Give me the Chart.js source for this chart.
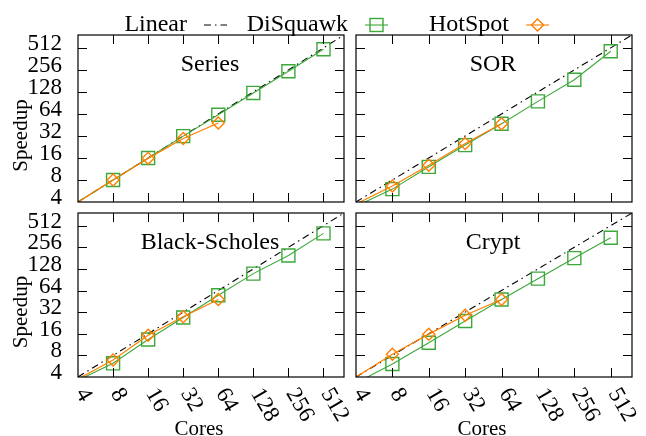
<!DOCTYPE html>
<html>
<head>
<meta charset="utf-8">
<title>Speedup</title>
<script src="https://cdn.jsdelivr.net/npm/chart.js@4.4.1/dist/chart.umd.min.js"></script>
<style>
  html, body { margin: 0; padding: 0; background: #fff; }
  #wrap { position: relative; width: 646px; height: 436px; }
  #wrap canvas { position: absolute; left: 0; top: 0; }
</style>
</head>
<body>
<div id="wrap">
  <canvas id="series" width="646" height="436"></canvas>
  <canvas id="sor" width="646" height="436"></canvas>
  <canvas id="blackscholes" width="646" height="436"></canvas>
  <canvas id="crypt" width="646" height="436"></canvas>
</div>
<script>
// cores on the x axis, speedups on the y axis (both log2)
const cores = [4, 8, 16, 32, 64, 128, 256, 512];
const hotSpotCores = [4, 8, 16, 32, 64];
const linearCores = [4, 8, 16, 32, 64, 128, 256, 512, 1024];
const linearSpeedup = [4, 8, 16, 32, 64, 128, 256, 512, 1024];

const seriesDiSquawk = [4, 8, 16, 31.8, 62.5, 124, 245, 490];
const seriesHotSpot = [4, 8, 15.8, 29.5, 48];
const sorDiSquawk = [3.5, 6, 12.1, 24, 47, 95, 188, 460];
const sorHotSpot = [3.75, 6.6, 12.7, 25.2, 47];
const blackScholesDiSquawk = [3.6, 6.2, 13.3, 27, 55, 110, 197, 400];
const blackScholesHotSpot = [3.75, 6.9, 15.3, 27.6, 48];
const cryptDiSquawk = [3.3, 6.06, 12, 24.1, 48, 93.6, 181, 347];
const cryptHotSpot = [4, 8.3, 15.8, 29, 48];

const tickValues = [4, 8, 16, 32, 64, 128, 256, 512];
const tickLabels = ["4", "8", "16", "32", "64", "128", "256", "512"];
const seriesNames = ["Linear", "DiSquawk", "HotSpot"];

const FONT = "'Liberation Serif', 'Times New Roman', serif";
const GREEN = "#3ca83a";
const ORANGE = "#ff7f00";
const AXIS_MAX = 768;
const TICK = 9;
const DASH_DOT = [7, 4, 1.5, 4];

function pairs(xs, ys) {
  return ys.map((y, i) => ({ x: xs[i], y: y }));
}

// frame, inside ticks, panel title and the outer axis labels
const framePlugin = {
  id: "frame",
  afterDatasetsDraw(chart, args, opts) {
    const { ctx, chartArea: a } = chart;
    const x = chart.scales.x;
    const y = chart.scales.y;
    ctx.save();
    ctx.strokeStyle = "#000";
    ctx.lineWidth = 1;
    ctx.beginPath();
    tickValues.forEach((v) => {
      const px = Math.round(x.getPixelForValue(v)) + 0.5;
      if (px > a.left + 1 && px < a.right - 1) {
        ctx.moveTo(px, a.bottom);
        ctx.lineTo(px, a.bottom - TICK);
        ctx.moveTo(px, a.top);
        ctx.lineTo(px, a.top + TICK);
      }
      const py = Math.round(y.getPixelForValue(v)) + 0.5;
      if (py > a.top + 1 && py < a.bottom - 1) {
        ctx.moveTo(a.left, py);
        ctx.lineTo(a.left + TICK, py);
        ctx.moveTo(a.right, py);
        ctx.lineTo(a.right - TICK, py);
      }
    });
    ctx.stroke();
    ctx.lineWidth = 1.2;
    ctx.strokeRect(a.left, a.top, a.right - a.left, a.bottom - a.top);

    ctx.fillStyle = "#000";
    ctx.font = "24px " + FONT;
    ctx.textAlign = "center";
    ctx.textBaseline = "alphabetic";
    ctx.fillText(opts.title, (a.left + a.right) / 2 - 1, a.top + 36);

    if (opts.xAxis) {
      ctx.font = "23px " + FONT;
      ctx.textAlign = "left";
      ctx.textBaseline = "middle";
      tickValues.forEach((v, i) => {
        ctx.save();
        ctx.translate(x.getPixelForValue(v) + 2.5, a.bottom + 13);
        ctx.rotate(Math.PI / 3);
        ctx.fillText(tickLabels[i], 0, 0);
        ctx.restore();
      });
      ctx.font = "21px " + FONT;
      ctx.textAlign = "center";
      ctx.textBaseline = "alphabetic";
      ctx.fillText("Cores", (a.left + a.right) / 2 - 12, a.bottom + 58);
    }
    if (opts.yAxis) {
      ctx.save();
      ctx.font = "21px " + FONT;
      ctx.textAlign = "center";
      ctx.textBaseline = "middle";
      ctx.translate(21, (a.top + a.bottom) / 2 + 17);
      ctx.rotate(-Math.PI / 2);
      ctx.fillText("Speedup", 0, 0);
      ctx.restore();
    }
    ctx.restore();
  }
};

// key across the top: text first, then the line sample
const keyPlugin = {
  id: "key",
  afterDraw(chart) {
    const ctx = chart.ctx;
    const textRight = [187, 348, 509];
    const sampleY = 25;
    ctx.save();
    ctx.fillStyle = "#000";
    ctx.font = "24px " + FONT;
    ctx.textAlign = "right";
    ctx.textBaseline = "alphabetic";
    seriesNames.forEach((name, i) => {
      const r = textRight[i];
      ctx.fillText(name, r, 31);
      const x0 = r + 17, x1 = r + 40, xm = (x0 + x1) / 2;
      ctx.beginPath();
      if (i === 0) {
        ctx.strokeStyle = "#000";
        ctx.lineWidth = 1.1;
        ctx.setLineDash(DASH_DOT);
      } else {
        ctx.strokeStyle = i === 1 ? GREEN : ORANGE;
        ctx.lineWidth = 1.1;
        ctx.setLineDash([]);
      }
      ctx.moveTo(x0, sampleY);
      ctx.lineTo(x1, sampleY);
      ctx.stroke();
      ctx.setLineDash([]);
      ctx.lineWidth = 1.4;
      if (i === 1) {
        ctx.strokeRect(xm - 6.5, sampleY - 6.5, 13, 13);
      } else if (i === 2) {
        ctx.beginPath();
        ctx.moveTo(xm - 6, sampleY);
        ctx.lineTo(xm, sampleY - 6);
        ctx.lineTo(xm + 6, sampleY);
        ctx.lineTo(xm, sampleY + 6);
        ctx.closePath();
        ctx.stroke();
      }
    });
    ctx.restore();
  }
};

const panels = [
  { id: "series", title: "Series", left: 78, top: 35, right: 344, bottom: 202, dis: seriesDiSquawk, hot: seriesHotSpot, yAxis: true, xAxis: false, key: true },
  { id: "sor", title: "SOR", left: 356, top: 35, right: 632, bottom: 202, dis: sorDiSquawk, hot: sorHotSpot, yAxis: false, xAxis: false },
  { id: "blackscholes", title: "Black-Scholes", left: 78, top: 213, right: 344, bottom: 377, dis: blackScholesDiSquawk, hot: blackScholesHotSpot, yAxis: true, xAxis: true },
  { id: "crypt", title: "Crypt", left: 356, top: 213, right: 632, bottom: 377, dis: cryptDiSquawk, hot: cryptHotSpot, yAxis: false, xAxis: true }
];

// no marker on the 4-core point, it sits on the frame
const markerRadius = (r) => (ctx) => (ctx.raw && ctx.raw.x === cores[0] ? 0 : r);

panels.forEach((p) => {
  new Chart(document.getElementById(p.id), {
    type: "line",
    data: {
      datasets: [
        {
          label: seriesNames[0],
          data: pairs(linearCores, linearSpeedup),
          borderColor: "#000",
          borderWidth: 1.1,
          borderDash: DASH_DOT,
          pointRadius: 0,
          order: 2
        },
        {
          label: seriesNames[1],
          data: pairs(cores, p.dis),
          borderColor: GREEN,
          borderWidth: 1.1,
          pointStyle: "rect",
          pointRadius: markerRadius(9.2),
          pointBorderColor: GREEN,
          pointBackgroundColor: "rgba(0,0,0,0)",
          pointBorderWidth: 1.4,
          order: 1
        },
        {
          label: seriesNames[2],
          data: pairs(hotSpotCores, p.hot),
          borderColor: ORANGE,
          borderWidth: 1.2,
          pointStyle: "rectRot",
          pointRadius: markerRadius(6),
          pointBorderColor: ORANGE,
          pointBackgroundColor: "rgba(0,0,0,0)",
          pointBorderWidth: 1.4,
          order: 0
        }
      ]
    },
    options: {
      responsive: false,
      animation: false,
      events: [],
      layout: {
        padding: {
          left: p.yAxis ? p.left - 60 : p.left,
          top: p.top,
          right: 646 - p.right,
          bottom: 436 - p.bottom
        }
      },
      plugins: {
        legend: { display: false },
        tooltip: { enabled: false },
        frame: { title: p.title, xAxis: p.xAxis, yAxis: p.yAxis }
      },
      scales: {
        x: { type: "logarithmic", min: 4, max: AXIS_MAX, display: false },
        y: {
          type: "logarithmic",
          min: 4,
          max: AXIS_MAX,
          display: p.yAxis,
          grid: { display: false, drawTicks: false },
          border: { display: false },
          afterBuildTicks: (s) => { s.ticks = tickValues.map((v) => ({ value: v })); },
          afterFit: (s) => { s.width = p.yAxis ? 60 : 0; },
          ticks: {
            autoSkip: false,
            padding: 16,
            labelOffset: -4,
            color: "#000",
            font: { family: FONT, size: 23 },
            callback: (v, i) => tickLabels[i]
          }
        }
      }
    },
    plugins: p.key ? [framePlugin, keyPlugin] : [framePlugin]
  });
});
</script>
</body>
</html>
